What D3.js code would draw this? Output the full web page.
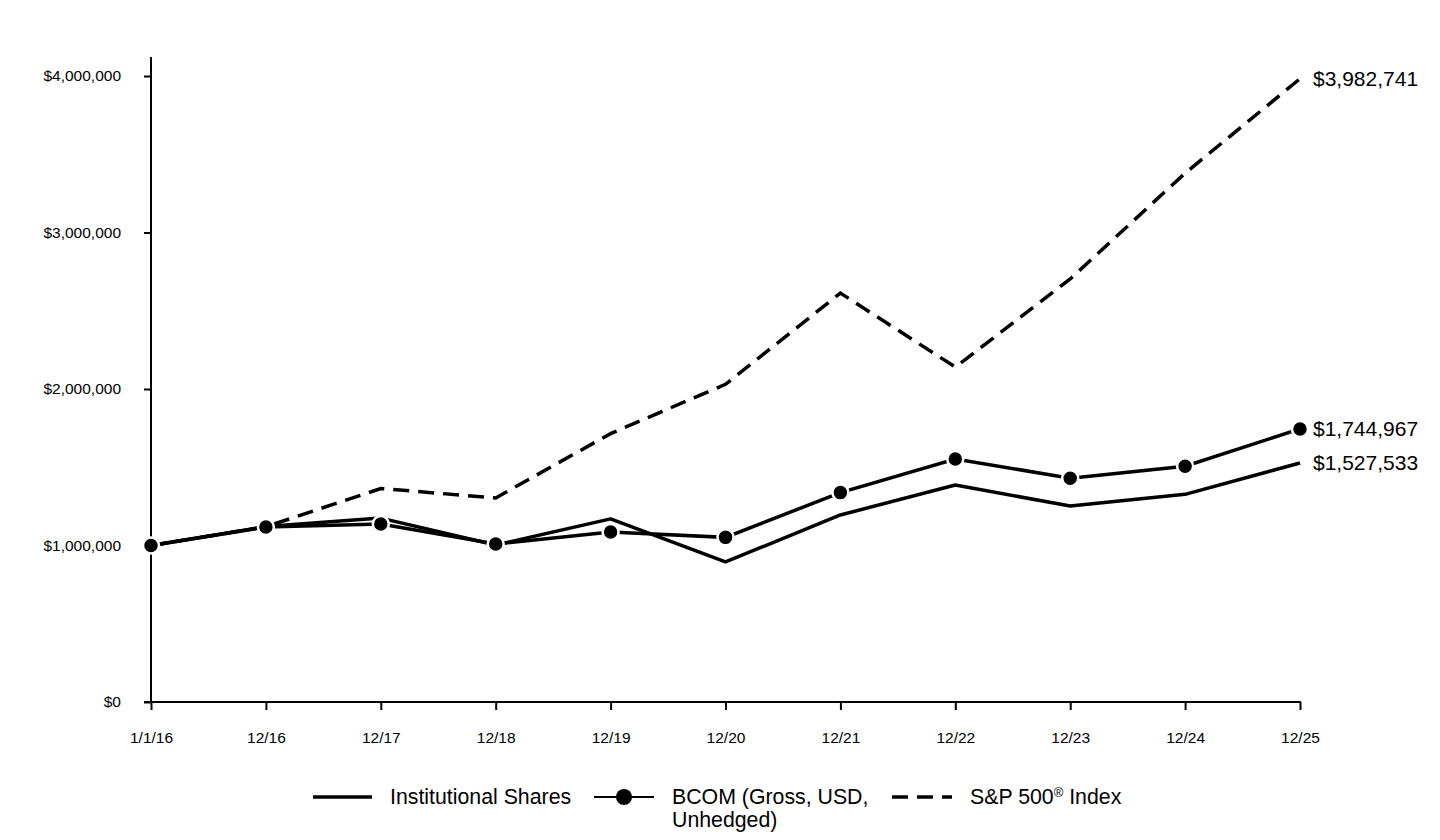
<!DOCTYPE html>
<html>
<head>
<meta charset="utf-8">
<script src="https://cdn.jsdelivr.net/npm/d3@7"></script>
<style>
  body { margin: 0; background: #fff; }
  text { font-family: "Liberation Sans", Arial, sans-serif; fill: #000; }
</style>
</head>
<body>
<div id="chart"></div>
<script>
// data
var dates = ["1/1/16", "12/16", "12/17", "12/18", "12/19", "12/20", "12/21", "12/22", "12/23", "12/24", "12/25"];
var institutional = [1000000, 1121000, 1175000, 1003000, 1170000, 895000, 1195000, 1387000, 1252000, 1327000, 1527533];
var bcom = [1000000, 1118000, 1137000, 1009000, 1086000, 1052000, 1338000, 1553000, 1430000, 1507000, 1744967];
var sp500 = [1000000, 1120000, 1364000, 1304000, 1715000, 2030000, 2613000, 2140000, 2703000, 3379000, 3982741];
var yTicks = [0, 1000000, 2000000, 3000000, 4000000];
var endLabels = ["$1,527,533", "$1,744,967", "$3,982,741"];

var width = 1440, height = 840;

var svg = d3.select("#chart")
  .append("svg")
  .attr("width", width)
  .attr("height", height);

var x = d3.scalePoint()
  .domain(dates)
  .range([151, 1300]);

var y = d3.scaleLinear()
  .domain([0, 4000000])
  .range([702, 76]);

// Y axis
var yAxis = svg.append("g")
  .attr("transform", "translate(151,0)")
  .call(d3.axisLeft(y).tickValues(yTicks).tickSize(7).tickPadding(23)
    .tickFormat(function (d) { return "$" + d3.format(",")(d); }));
yAxis.select(".domain").remove();
yAxis.selectAll("line").attr("stroke", "#000").attr("stroke-width", 2);
yAxis.selectAll("text").style("font-size", "15.5px").attr("font-family", null);
svg.append("line")
  .attr("x1", 151).attr("x2", 151)
  .attr("y1", 57).attr("y2", 702)
  .attr("stroke", "#000").attr("stroke-width", 2);

// X axis
var xAxis = svg.append("g")
  .attr("transform", "translate(0,702)")
  .call(d3.axisBottom(x).tickSize(8).tickPadding(22).tickSizeOuter(0));
xAxis.select(".domain").remove();
xAxis.selectAll("line").attr("stroke", "#000").attr("stroke-width", 2);
xAxis.selectAll("text").style("font-size", "15.5px").attr("font-family", null);
svg.append("line")
  .attr("x1", 144).attr("x2", 1301)
  .attr("y1", 702).attr("y2", 702)
  .attr("stroke", "#000").attr("stroke-width", 2);

var line = d3.line()
  .x(function (d, i) { return x(dates[i]); })
  .y(function (d) { return y(d); });

// S&P 500 dashed
svg.append("path")
  .datum(sp500)
  .attr("d", line)
  .attr("fill", "none")
  .attr("stroke", "#000")
  .attr("stroke-width", 3.5)
  .attr("stroke-dasharray", "16,9");

// Institutional shares
svg.append("path")
  .datum(institutional)
  .attr("d", line)
  .attr("fill", "none")
  .attr("stroke", "#000")
  .attr("stroke-width", 3.5)
  .attr("stroke-linejoin", "round");

// BCOM with markers
svg.append("path")
  .datum(bcom)
  .attr("d", line)
  .attr("fill", "none")
  .attr("stroke", "#000")
  .attr("stroke-width", 3.5);

svg.append("g")
  .selectAll("circle")
  .data(bcom)
  .enter().append("circle")
  .attr("cx", function (d, i) { return x(dates[i]); })
  .attr("cy", function (d) { return y(d); })
  .attr("r", 8)
  .attr("fill", "#000")
  .attr("stroke", "#fff")
  .attr("stroke-width", 2.5);

// end labels
var lastVals = [institutional[10], bcom[10], sp500[10]];
svg.append("g")
  .selectAll("text")
  .data(lastVals)
  .enter().append("text")
  .attr("x", 1313)
  .attr("y", function (d) { return y(d); })
  .attr("dy", "0.35em")
  .style("font-size", "21px")
  .text(function (d, i) { return endLabels[i]; });

// legend
var lg = svg.append("g").style("font-size", "21.3px");
lg.append("line").attr("x1", 313).attr("x2", 372).attr("y1", 797).attr("y2", 797)
  .attr("stroke", "#000").attr("stroke-width", 3.5);
lg.append("text").attr("x", 390).attr("y", 797).attr("dy", "0.35em")
  .text("Institutional Shares");

lg.append("line").attr("x1", 594).attr("x2", 654).attr("y1", 797).attr("y2", 797)
  .attr("stroke", "#000").attr("stroke-width", 2);
lg.append("circle").attr("cx", 624).attr("cy", 797).attr("r", 8).attr("fill", "#000");
lg.append("text").attr("x", 672).attr("y", 797).attr("dy", "0.35em")
  .text("BCOM (Gross, USD,");
lg.append("text").attr("x", 672).attr("y", 820).attr("dy", "0.35em")
  .text("Unhedged)");

lg.append("line").attr("x1", 892).attr("x2", 952).attr("y1", 797).attr("y2", 797)
  .attr("stroke", "#000").attr("stroke-width", 3.5).attr("stroke-dasharray", "16,9");
var spText = lg.append("text").attr("x", 970).attr("y", 804);
spText.append("tspan").text("S&P 500");
spText.append("tspan").attr("dy", -7).style("font-size", "13px").text("®");
spText.append("tspan").attr("dy", 7).text(" Index");
</script>
</body>
</html>
